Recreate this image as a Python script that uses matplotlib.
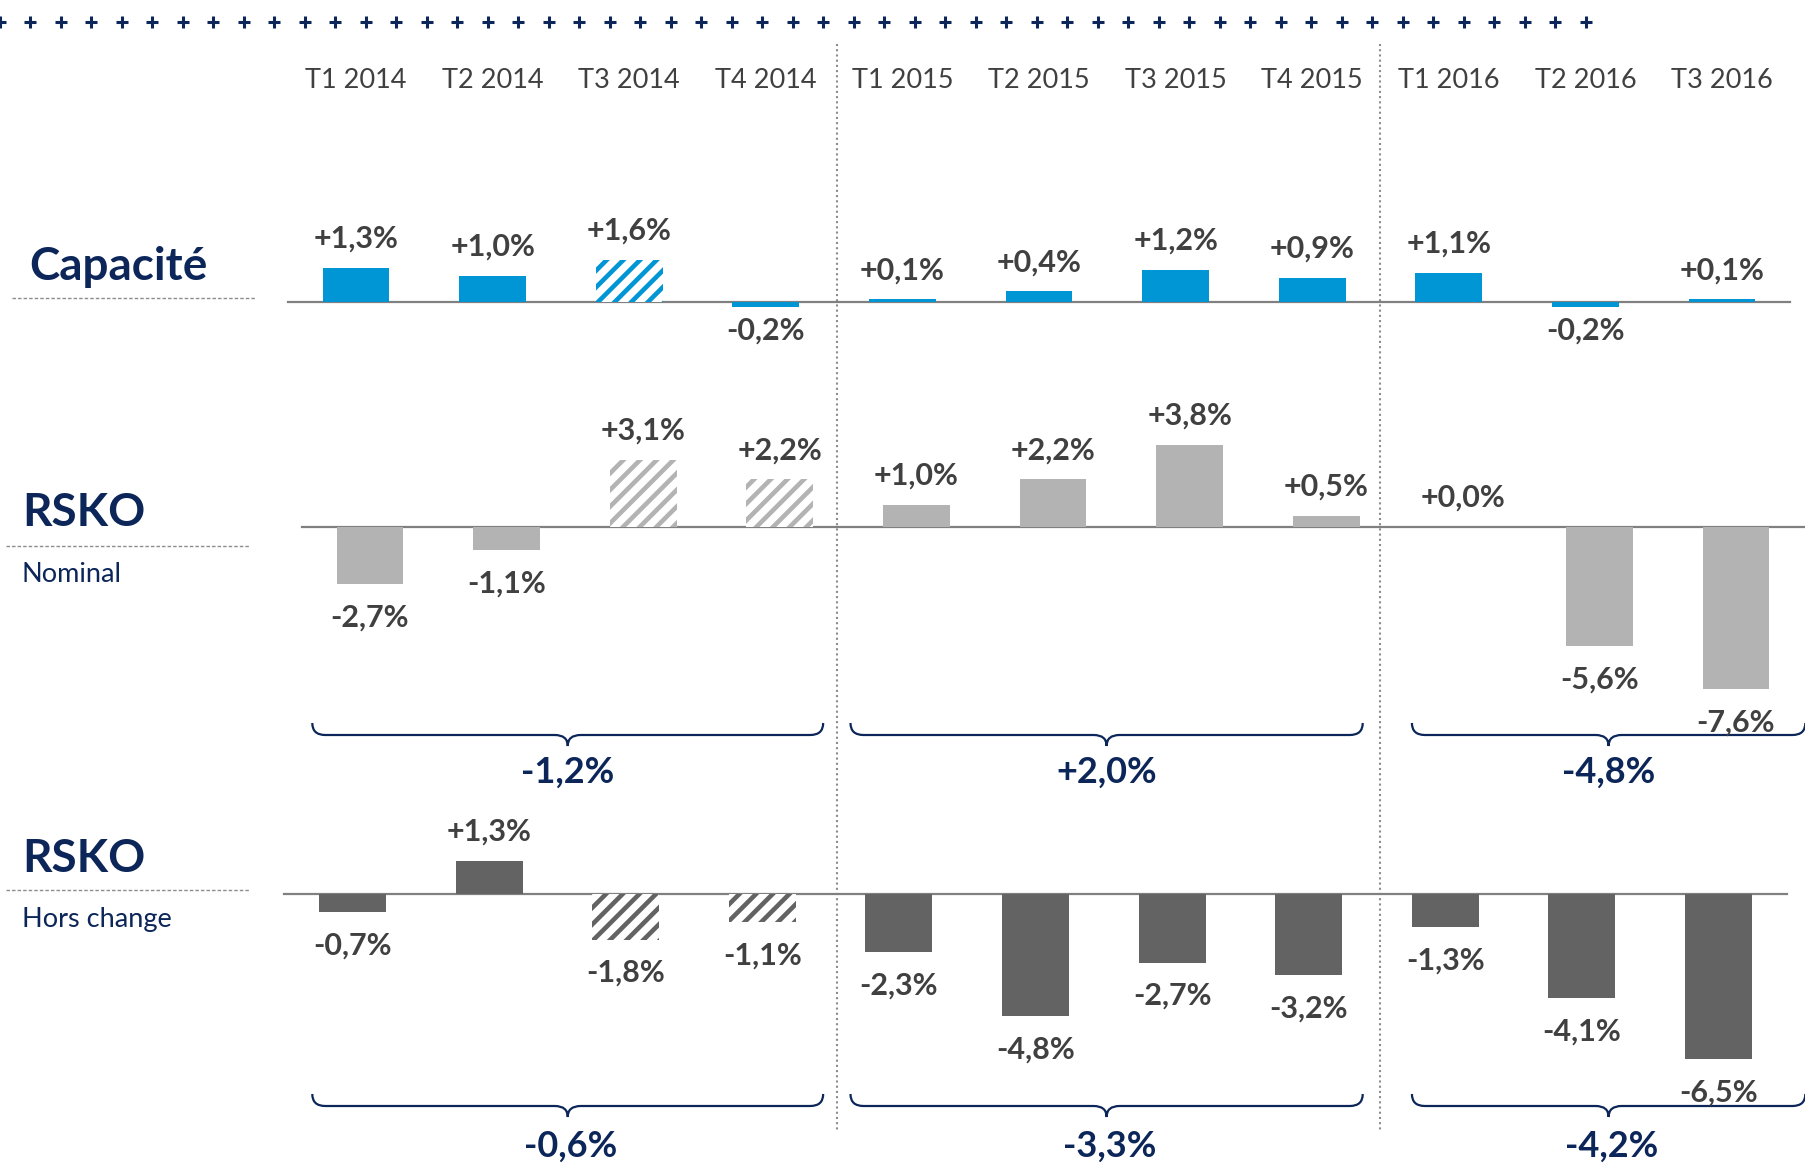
import numpy as np
import matplotlib
matplotlib.use("Agg")
import matplotlib.pyplot as plt
from matplotlib.path import Path
from matplotlib.patches import PathPatch

plt.rcParams['font.family'] = ['Lato', 'DejaVu Sans']
plt.rcParams['hatch.linewidth'] = 3.3

# --- data -------------------------------------------------------------
quarters = ["T1 2014", "T2 2014", "T3 2014", "T4 2014",
            "T1 2015", "T2 2015", "T3 2015", "T4 2015",
            "T1 2016", "T2 2016", "T3 2016"]
capacite = [1.3, 1.0, 1.6, -0.2, 0.1, 0.4, 1.2, 0.9, 1.1, -0.2, 0.1]
rsko_nominal = [-2.7, -1.1, 3.1, 2.2, 1.0, 2.2, 3.8, 0.5, 0.0, -5.6, -7.6]
rsko_hors_change = [-0.7, 1.3, -1.8, -1.1, -2.3, -4.8, -2.7, -3.2, -1.3, -4.1, -6.5]

# quarters drawn hatched in each row
hatched_capacite = [2]
hatched_nominal = [2, 3]
hatched_hors_change = [2, 3]

# yearly totals (one per year group)
years = [(0, 3), (4, 7), (8, 10)]
total_nominal = [-1.2, 2.0, -4.8]
total_hors_change = [-0.6, -3.3, -4.2]

# --- colours / layout -------------------------------------------------
BLUE = '#0096d6'
LIGHT = '#b3b3b3'
DARK = '#636363'
NAVY = '#0c2659'
TEXT = '#404040'
AXIS = '#808080'

W, H = 1806, 1168
STEP = 136.6          # pixels between two quarters
X0 = 356              # pixel centre of first quarter (header / capacity row)

# brace spans for each year, in quarter units
brace_spans = [(-0.32, 3.42), (3.62, 7.37), (7.73, 10.61)]


def fmt(v):
    return f"{v:+.1f}%".replace('.', ',')


def px(i):
    return X0 + STEP * i


fig = plt.figure(figsize=(W / 100, H / 100), dpi=100)
fig.patch.set_facecolor('white')

# overlay in pixel coords for decorations
over = fig.add_axes([0, 0, 1, 1])
over.set_xlim(0, W)
over.set_ylim(H, 0)
over.axis('off')


def panel(x0, base, scale):
    ax = fig.add_axes([0, 0, 1, 1])
    ax.set_xlim(-x0 / STEP, (W - x0) / STEP)
    ax.set_ylim((base - H) / scale, base / scale)
    ax.axis('off')
    ax.patch.set_alpha(0)
    return ax


def draw_row(ax, values, hatched, color, pos_off, neg_off, line_end=10.5):
    x = np.arange(len(values))
    plain = [i for i in x if i not in hatched]
    ax.plot([-0.5, line_end], [0, 0], color=AXIS, lw=1.6, zorder=1)
    ax.bar(plain, [values[i] for i in plain], width=0.49, color=color, zorder=2)
    ax.bar(hatched, [values[i] for i in hatched], width=0.49, facecolor='white',
           edgecolor=color, lw=0, hatch='//', zorder=2)
    for i, v in enumerate(values):
        off = pos_off if v >= 0 else -neg_off
        ax.annotate(fmt(v), (i, v), xytext=(0, off), textcoords='offset points',
                    ha='center', va='center', fontsize=22, fontweight='bold',
                    color=TEXT)


def brace(xa, xb, y0, d1=12, d2=23, r=13):
    m = (xa + xb) / 2
    verts = [(xa, y0), (xa, y0 + d1), (xa + r, y0 + d1),
             (m - r, y0 + d1), (m, y0 + d1), (m, y0 + d2),
             (m, y0 + d1), (m + r, y0 + d1),
             (xb - r, y0 + d1), (xb, y0 + d1), (xb, y0)]
    codes = [Path.MOVETO, Path.CURVE3, Path.CURVE3,
             Path.LINETO, Path.CURVE3, Path.CURVE3,
             Path.CURVE3, Path.CURVE3,
             Path.LINETO, Path.CURVE3, Path.CURVE3]
    over.add_patch(PathPatch(Path(verts, codes), fill=False, ec=NAVY, lw=1.6))


# rows
ax_cap = panel(X0, 302, 26.5)
draw_row(ax_cap, capacite, hatched_capacite, BLUE, 21, 17)

ax_nom = panel(370, 526.5, 21.4)
draw_row(ax_nom, rsko_nominal, hatched_nominal, LIGHT, 21, 24, line_end=10.6)

ax_hc = panel(352.5, 894, 25.4)
draw_row(ax_hc, rsko_hors_change, hatched_hors_change, DARK, 21, 24)

# header row of pluses
xs = 30.5 * np.arange(53)
over.plot(xs, np.full(len(xs), 22), '+', ms=8, mew=2.2, color=NAVY)

# quarter labels
for i, q in enumerate(quarters):
    over.text(px(i), 81, q, ha='center', va='center', fontsize=19.5, color=TEXT)

# year separators
over.vlines([px(3.5) + 3, px(7.5)], 44, 1130, colors='#8c8c8c', lw=1.5,
            linestyles=(0, (1, 1.5)))

# braces and yearly totals
for (a, b), tn, th in zip(brace_spans, total_nominal, total_hors_change):
    xa, xb = px(a), px(b)
    brace(xa, xb, 723)
    brace(xa, xb, 1094)
    m = (xa + xb) / 2
    over.text(m, 772, fmt(tn), ha='center', va='center', fontsize=26,
              fontweight='bold', color=NAVY)
    over.text(m + 3, 1146, fmt(th), ha='center', va='center', fontsize=26,
              fontweight='bold', color=NAVY)

# row titles on the left
dash = dict(color='#8c8c8c', lw=1, ls=(0, (2.5, 1.5)))
over.text(29, 280, "Capacité", fontsize=33, fontweight='bold', color=NAVY,
          va='baseline')
over.plot([12, 256], [298, 298], **dash)

over.text(22, 526, "RSKO", fontsize=33, fontweight='bold', color=NAVY,
          va='baseline')
over.plot([6, 250], [546, 546], **dash)
over.text(22, 574, "Nominal", fontsize=19.5, color=NAVY, va='center')

over.text(22, 872, "RSKO", fontsize=33, fontweight='bold', color=NAVY,
          va='baseline')
over.plot([6, 249], [890, 890], **dash)
over.text(22, 919, "Hors change", fontsize=19.5, color=NAVY, va='center')

fig.savefig("out.png", dpi=100, facecolor='white')
